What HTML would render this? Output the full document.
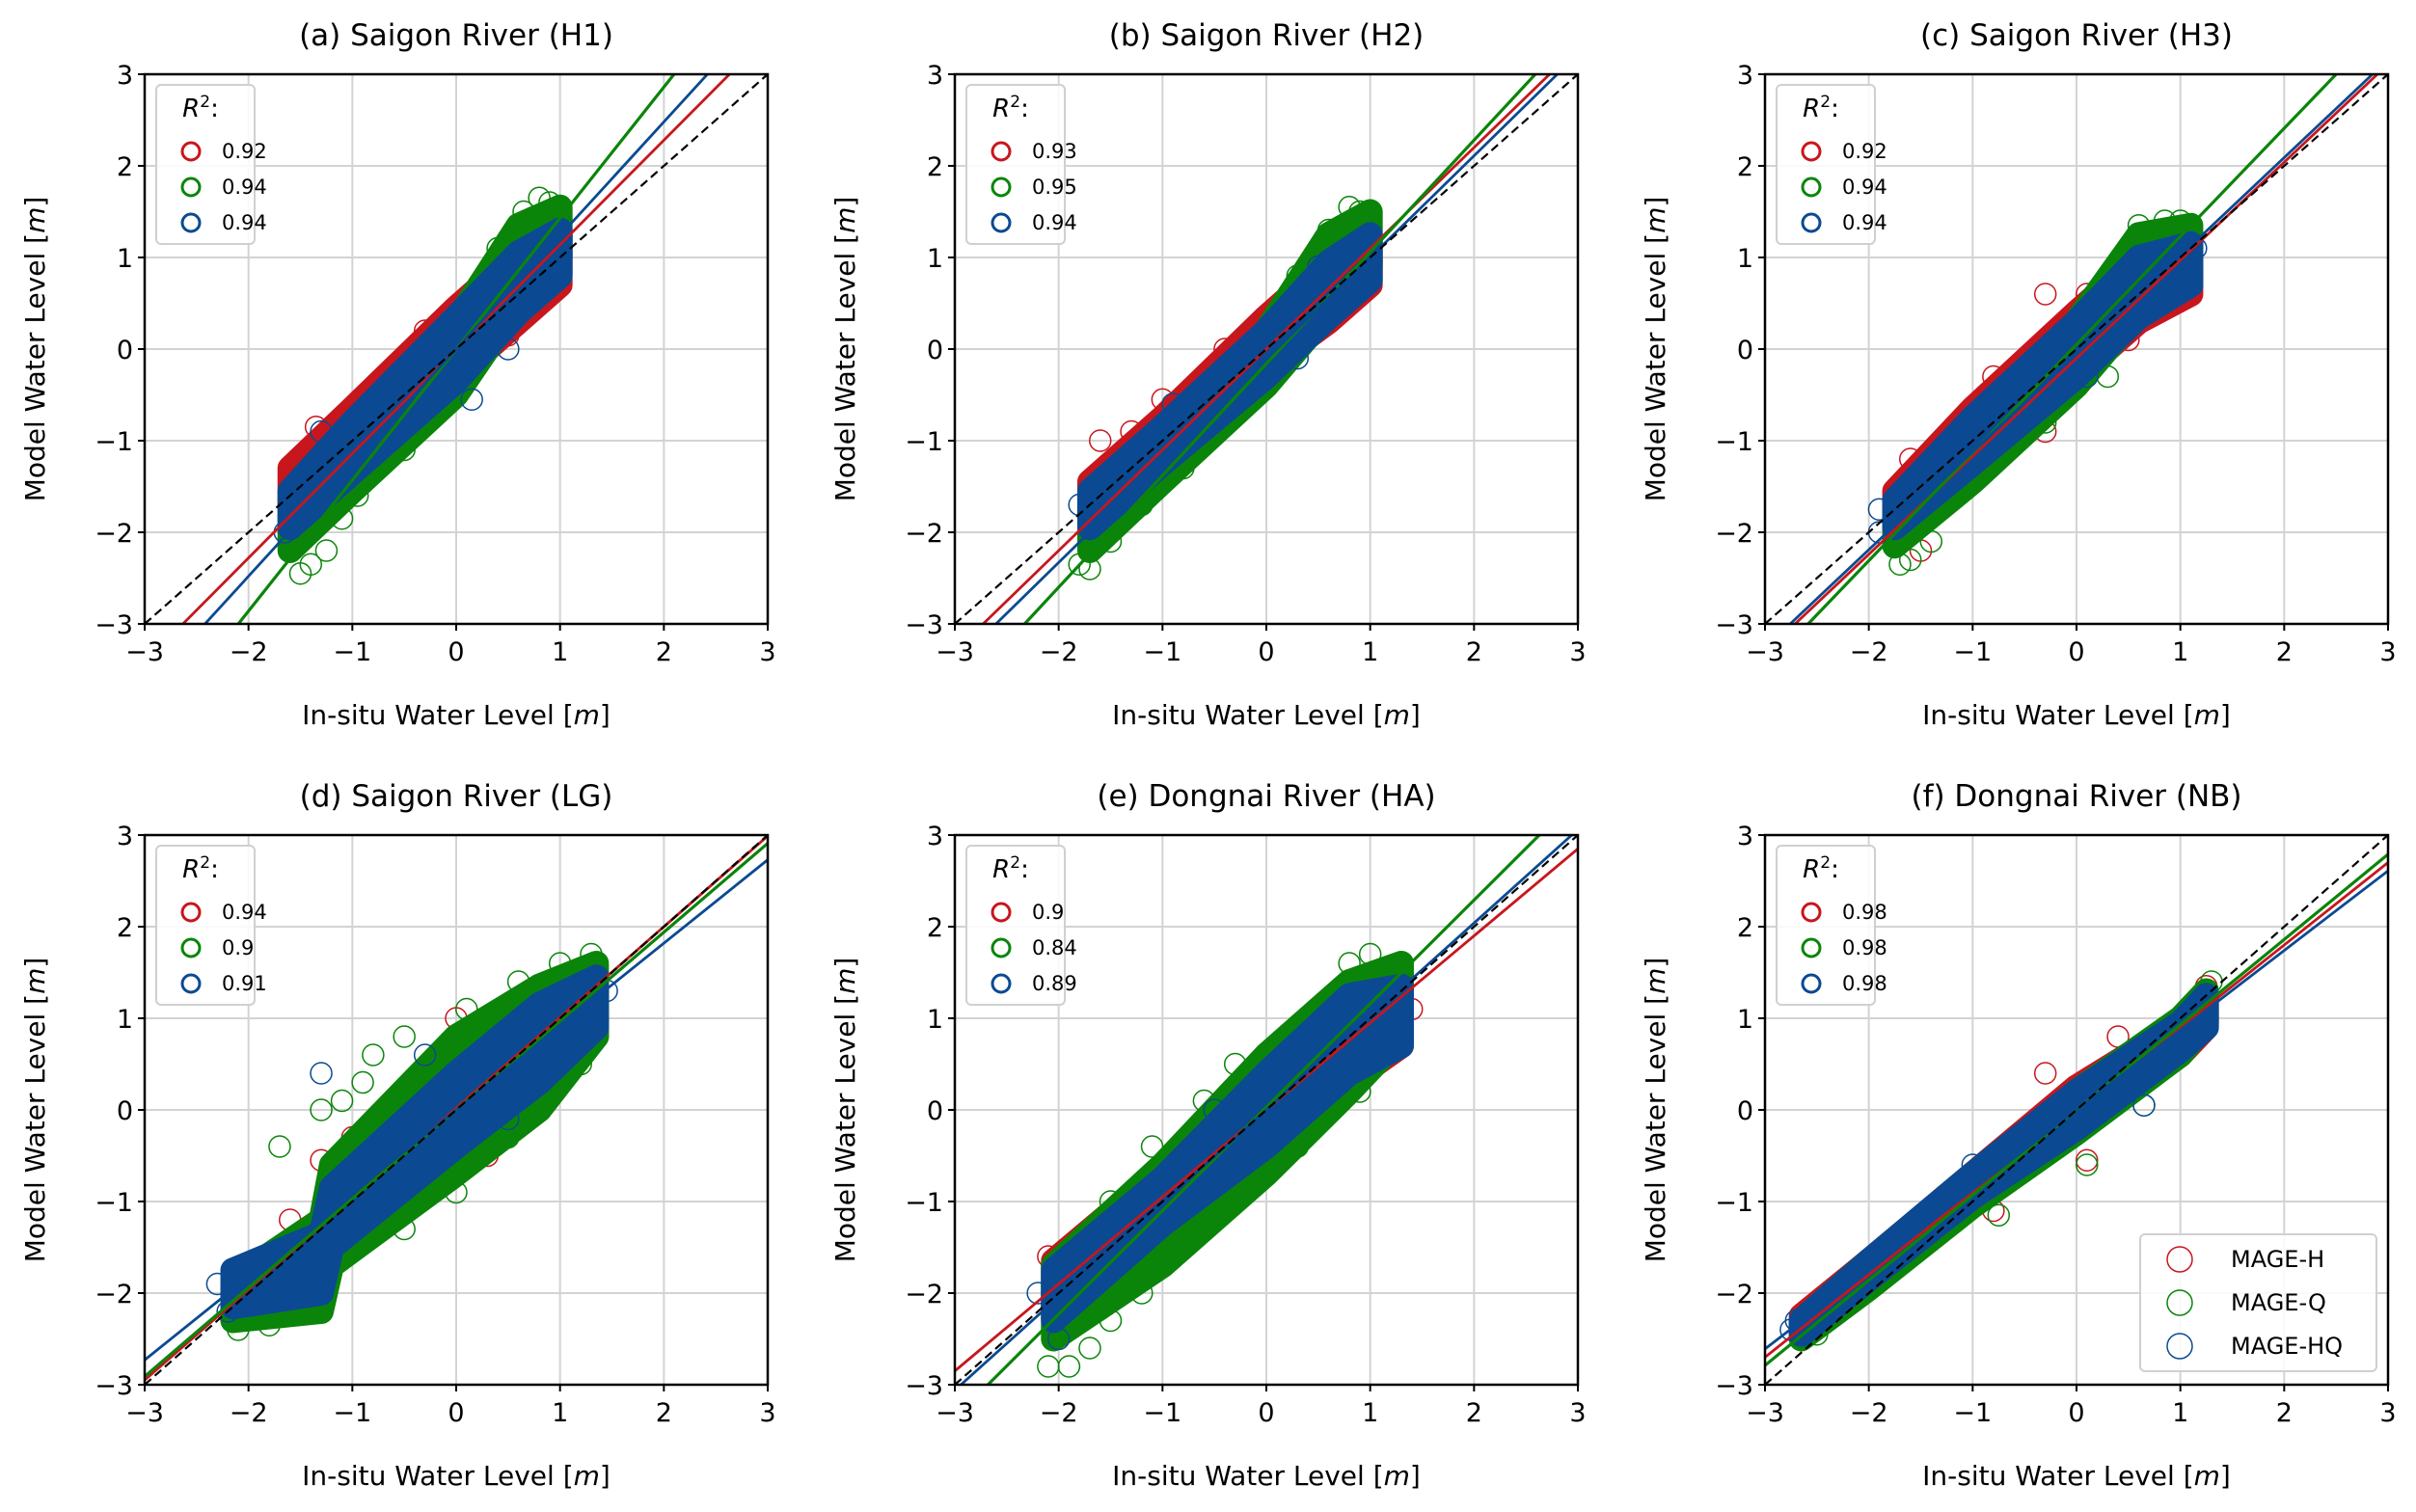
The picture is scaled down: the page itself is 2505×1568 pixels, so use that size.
<!DOCTYPE html>
<html><head><meta charset="utf-8"><style>
body{margin:0;background:#fff}
svg{display:block;font-family:"DejaVu Sans","Liberation Sans",sans-serif}
</style></head><body>
<svg id="fig" width="2505" height="1568" viewBox="0 0 2505 1568" xmlns="http://www.w3.org/2000/svg"></svg>
<script>
const titles=["(a) Saigon River (H1)","(b) Saigon River (H2)","(c) Saigon River (H3)","(d) Saigon River (LG)","(e) Dongnai River (HA)","(f) Dongnai River (NB)"];
const seriesNames=["MAGE-H","MAGE-Q","MAGE-HQ"];
const ticks=[-3,-2,-1,0,1,2,3];
const r2Values=[["0.92","0.94","0.94"],["0.93","0.95","0.94"],["0.92","0.94","0.94"],["0.94","0.9","0.91"],["0.9","0.84","0.89"],["0.98","0.98","0.98"]];
const slopes=[[1.14,1.43,1.24],[1.1,1.22,1.11],[1.07,1.18,1.07],[0.99,0.97,0.91],[0.95,1.13,1.02],[0.9,0.93,0.87]];
const intercepts=[[0,0,0],[0,-0.16,-0.11],[-0.1,0.05,-0.05],[0.02,0,0],[0,0.03,0],[0,0,0]];
const bandX=[[-1.6,-1,0,0.6,1.0],[-1.7,-1,0,0.6,1.0],[-1.75,-1,0,0.6,1.1],[-2.15,-1.3,-1.2,0,0.8,1.35],[-2.05,-1,0,0.8,1.3],[-2.65,-2,-1,0,1.0,1.25]];
const bandLo=[
 [[-1.7,-1.15,-0.3,0.3,0.7],[-2.2,-1.55,-0.5,0.5,1.0],[-1.95,-1.35,-0.35,0.4,0.8]],
 [[-1.85,-1.15,-0.2,0.3,0.7],[-2.2,-1.45,-0.4,0.4,0.9],[-1.95,-1.25,-0.3,0.35,0.75]],
 [[-1.95,-1.25,-0.3,0.3,0.6],[-2.15,-1.45,-0.4,0.4,0.9],[-1.95,-1.25,-0.3,0.35,0.7]],
 [[-2.2,-2.1,-1.5,-0.4,0.3,0.8],[-2.3,-2.2,-1.7,-0.7,0.0,0.8],[-2.15,-2.0,-1.5,-0.4,0.3,0.9]],
 [[-2.2,-1.15,-0.3,0.3,0.7],[-2.5,-1.7,-0.7,0.2,0.8],[-2.3,-1.25,-0.4,0.4,0.7]],
 [[-2.45,-1.9,-1.0,-0.2,0.6,0.9],[-2.5,-1.95,-1.05,-0.25,0.6,0.95],[-2.45,-1.85,-0.95,-0.2,0.65,0.9]]];
const bandHi=[
 [[-1.3,-0.65,0.45,1.05,1.25],[-1.75,-0.95,0.3,1.35,1.55],[-1.55,-0.8,0.35,1.05,1.3]],
 [[-1.45,-0.75,0.35,0.95,1.2],[-1.75,-1.05,0.2,1.25,1.5],[-1.55,-0.85,0.2,0.95,1.25]],
 [[-1.55,-0.65,0.4,1.0,1.15],[-1.75,-1.05,0.3,1.25,1.35],[-1.65,-0.75,0.3,1.0,1.15]],
 [[-1.85,-1.3,-1.0,0.55,1.25,1.45],[-1.85,-1.2,-0.6,0.8,1.35,1.6],[-1.75,-1.35,-0.85,0.4,1.15,1.45]],
 [[-1.65,-0.65,0.55,1.05,1.25],[-1.7,-0.6,0.6,1.4,1.6],[-1.75,-0.75,0.4,1.25,1.35]],
 [[-2.25,-1.65,-0.7,0.25,0.95,1.25],[-2.3,-1.65,-0.75,0.2,1.0,1.3],[-2.3,-1.65,-0.7,0.2,0.95,1.25]]];
const pts=[
 [[[-1.35,-0.85],[-1.55,-1.3],[-1.2,-0.95],[-0.9,-0.6],[-0.5,-0.25],[0.2,0.6],[0.9,0.75],[0.95,0.9],[0.6,0.4],[-0.3,0.2],[0.5,0.15]],
  [[-1.5,-2.45],[-1.4,-2.35],[-1.25,-2.2],[-1.1,-1.85],[-0.95,-1.6],[0.8,1.65],[0.65,1.5],[0.9,1.6],[0.4,1.1],[-1.6,-1.9],[-0.5,-1.1]],
  [[-1.6,-1.55],[-1.65,-2.0],[0.15,-0.55],[0.5,0.0],[-1.3,-0.9],[1.0,1.2],[-0.75,-0.7]]],
 [[[-1.6,-1.0],[-1.3,-0.9],[-1.0,-0.55],[0.9,0.6],[1.0,0.85],[0.1,-0.2],[-0.4,0.0],[0.2,0.5]],
  [[-1.8,-2.35],[-1.7,-2.4],[-1.5,-2.1],[-1.2,-1.7],[0.8,1.55],[0.9,1.5],[0.6,1.3],[0.3,0.8],[-0.8,-1.3]],
  [[-1.8,-1.7],[1.0,1.2],[0.3,-0.1],[-0.9,-0.6],[0.5,0.9]]],
 [[[-1.6,-1.2],[-1.3,-1.0],[-0.3,0.6],[-0.8,-0.3],[0.1,0.6],[-1.5,-2.2],[-0.3,-0.9],[0.9,0.7],[0.5,0.1]],
  [[-1.7,-2.35],[-1.6,-2.3],[-1.4,-2.1],[-1.5,-1.8],[-1.0,-1.4],[0.6,1.35],[0.85,1.4],[1.0,1.4],[0.3,-0.3],[-0.3,-0.8]],
  [[-1.9,-1.75],[-1.9,-2.0],[1.15,1.1],[0.1,-0.3],[-0.7,-0.5]]],
 [[[-1.6,-1.2],[-1.3,-0.55],[-1.0,-0.3],[0,1.0],[0.5,1.1],[1.2,1.4],[-1.5,-1.6],[0.3,-0.5],[1.0,0.4]],
  [[-1.7,-0.4],[-1.3,0.0],[-1.1,0.1],[-0.8,0.6],[-0.9,0.3],[-0.5,0.8],[0.1,1.1],[0.6,1.4],[1.0,1.6],[1.3,1.7],[-2.1,-2.4],[-1.8,-2.35],[-0.5,-1.3],[0,-0.9],[0.5,-0.3],[-1.0,-1.5],[1.2,0.5],[-1.5,-2.2]],
  [[-2.3,-1.9],[-2.2,-2.2],[-1.3,0.4],[-0.9,-1.1],[0.5,-0.1],[1.45,1.3],[-0.3,0.6]]],
 [[[-2.1,-1.6],[-1.8,-1.5],[-1.5,-1.2],[0.5,1.0],[1.2,0.7],[1.4,1.1],[-0.5,-0.3]],
  [[-2.1,-2.8],[-1.9,-2.8],[-1.7,-2.6],[-1.5,-2.3],[-1.2,-2.0],[-1.0,-1.6],[-0.7,-1.3],[-0.4,-1.0],[-1.1,-0.4],[-0.6,0.1],[-0.3,0.5],[0.3,0.9],[0.6,1.2],[0.8,1.6],[1.0,1.7],[-1.5,-1.0],[0.9,0.2],[0.3,-0.4]],
  [[-2.2,-2.0],[-2.0,-2.5],[1.3,1.1],[-0.5,0.0],[-1.3,-1.3]]],
 [[[-2.5,-2.3],[-0.8,-1.1],[0.1,-0.55],[1.25,1.35],[0.4,0.8],[-0.3,0.4]],
  [[-2.5,-2.45],[-2.1,-2.0],[0.1,-0.6],[-0.75,-1.15],[1.3,1.4],[0.65,0.05]],
  [[-2.7,-2.3],[-2.75,-2.4],[0.65,0.05],[-1.0,-0.6],[1.2,1.1]]]];
const colors=["#c8161d","#0a850a","#0b4a92"];
const NS="http://www.w3.org/2000/svg";
const svg=document.getElementById("fig");
function mk(tag,attrs,parent){const e=document.createElementNS(NS,tag);for(const k in attrs)e.setAttribute(k,attrs[k]);(parent||svg).appendChild(e);return e;}
const W=646,H=570,lefts=[150,990,1830],tops=[77,866];
for(let p=0;p<6;p++){
 const L=lefts[p%3],T=tops[Math.floor(p/3)];
 const sx=v=>L+(v+3)/6*W, sy=v=>T+H-(v+3)/6*H;
 const g=mk("g",{});
 
 
 const cp=mk("clipPath",{id:"c"+p},g);mk("rect",{x:L,y:T,width:W,height:H},cp);
 for(const t of ticks){
  if(t>-3&&t<3){
   const gx=mk("line",{x1:sx(t),x2:sx(t),y1:T,y2:T+H,stroke:"#d3d3d3","stroke-width":2},g);
   
   const gy=mk("line",{x1:L,x2:L+W,y1:sy(t),y2:sy(t),stroke:"#d3d3d3","stroke-width":2},g);
   
  }
  mk("line",{x1:sx(t),x2:sx(t),y1:T+H,y2:T+H+7,stroke:"#000","stroke-width":2},g);
  mk("line",{x1:L-7,x2:L,y1:sy(t),y2:sy(t),stroke:"#000","stroke-width":2},g);
  const lab=t<0?"\u2212"+(-t):""+t;
  const tx=mk("text",{x:sx(t),y:T+H+38,"text-anchor":"middle","font-size":27},g);tx.textContent=lab;
  
  const ty=mk("text",{x:L-12,y:sy(t)+10,"text-anchor":"end","font-size":27},g);ty.textContent=lab;
  
 }
 const cg=mk("g",{"clip-path":"url(#c"+p+")"},g);
 for(let s=0;s<3;s++){
  const xs=bandX[p],lo=bandLo[p][s],hi=bandHi[p][s];
  let d=xs.map((x,i)=>(i?"L":"M")+sx(x)+","+sy(hi[i])).join("")+xs.slice().reverse().map((x,i)=>"L"+sx(x)+","+sy(lo[xs.length-1-i])).join("")+"Z";
  const band=mk("path",{d:d,fill:colors[s],stroke:colors[s],"stroke-width":26,"stroke-linejoin":"round"},cg);
  
  
  for(const q of pts[p][s]){
   const c=mk("circle",{cx:sx(q[0]),cy:sy(q[1]),r:11,fill:"none",stroke:colors[s],"stroke-width":1.5},cg);
   
   
  }
 }
 for(let s=0;s<3;s++){
  const m=slopes[p][s],b=intercepts[p][s];
  const ln=mk("line",{x1:sx(-3),y1:sy(m*-3+b),x2:sx(3),y2:sy(m*3+b),stroke:colors[s],"stroke-width":s==1?3.2:2.8},cg);
  
  
 }
 const one=mk("line",{x1:sx(-3),y1:sy(-3),x2:sx(3),y2:sy(3),stroke:"#000","stroke-width":2.2,"stroke-dasharray":"9,5"},cg);
 
 const fr=mk("rect",{x:L,y:T,width:W,height:H,fill:"none",stroke:"#000","stroke-width":2.5},g);
 
 const ti=mk("text",{x:L+W/2,y:T-30,"text-anchor":"middle","font-size":31},g);ti.textContent=titles[p];
 
 const xl=mk("text",{x:L+W/2,y:T+H+104,"text-anchor":"middle","font-size":28},g);
 xl.innerHTML='In-situ Water Level [<tspan font-style="italic">m</tspan>]';
 
 const yl=mk("text",{x:0,y:0,"text-anchor":"middle","font-size":28,transform:"translate("+(L-104)+","+(T+H/2)+") rotate(-90)"},g);
 yl.innerHTML='Model Water Level [<tspan font-style="italic">m</tspan>]';
 
 const lg=mk("g",{},g);
 
 mk("rect",{x:L+12,y:T+11,width:102,height:165,rx:5,fill:"#fff","fill-opacity":0.85,stroke:"#d0d0d0","stroke-width":2},lg);
 const rt=mk("text",{x:L+58,y:T+44,"text-anchor":"middle","font-size":26},lg);
 rt.innerHTML='<tspan font-style="italic">R</tspan><tspan dy="-10" font-size="17">2</tspan><tspan dy="10">:</tspan>';
 for(let s=0;s<3;s++){
  const yy=T+80+s*37;
  mk("circle",{cx:L+48,cy:yy,r:9,fill:"none",stroke:colors[s],"stroke-width":3},lg);
  const et=mk("text",{x:L+80,y:yy+7,"font-size":21},lg);et.textContent=r2Values[p][s];
  
 }
 if(p==5){
  const sl=mk("g",{},g);
  
  mk("rect",{x:2219,y:1280,width:245,height:142,rx:5,fill:"#fff","fill-opacity":0.85,stroke:"#d0d0d0","stroke-width":2},sl);
  for(let s=0;s<3;s++){
   const yy=1306+s*45;
   mk("circle",{cx:2260,cy:yy,r:13,fill:"none",stroke:colors[s],"stroke-width":1.5},sl);
   const et=mk("text",{x:2313,y:yy+8,"font-size":24},sl);et.textContent=seriesNames[s];
   
  }
 }
}
</script>
</body></html>
